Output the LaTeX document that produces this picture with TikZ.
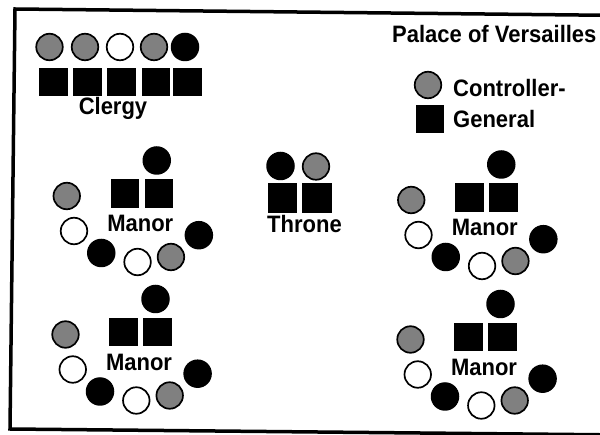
\documentclass[tikz,border=0pt]{standalone}
\usepackage{fontspec}
\setmainfont{Liberation Sans}
\newcommand\tallt[1]{\scalebox{1}[1.08]{#1}}
\begin{document}
\begin{tikzpicture}[x=1pt,y=-1pt,
  blk/.style={circle,fill=black,minimum size=28.5pt,inner sep=0pt},
  wht/.style={circle,draw=black,line width=1.7pt,fill=white,minimum size=26.5pt,inner sep=0pt},
  gry/.style={circle,draw=black,line width=1.7pt,fill=black!50,minimum size=26.5pt,inner sep=0pt},
  sq/.style={rectangle,fill=black,minimum size=28.5pt,inner sep=0pt},
  lbl/.style={font=\fontsize{22}{24}\selectfont\bfseries,inner sep=0pt,anchor=base},
  frame/.style={line width=3.5pt,line join=miter}]
\useasboundingbox (0,0) rectangle (600,435);
\begin{scope}
\clip (0,0) rectangle (600,435);
\draw[frame] (625,15.5) -- (15,9) -- (10,429) -- (625,435);
\end{scope}
% title and legend
\node[lbl,anchor=base west] (title) at (392,43) {\tallt{Palace of Versailles}};
\node[gry] (legc) at (428,85) {};
\node[sq] (legs) at (430,119) {};
\node[lbl,anchor=base west] (legt1) at (453,97) {\tallt{Controller-}};
\node[lbl,anchor=base west] (legt2) at (453,128) {\tallt{General}};
% clergy
\node[gry] (cc1) at (49.5,47) {};
\node[gry] (cc2) at (85,47) {};
\node[wht] (cc3) at (120,47) {};
\node[gry] (cc4) at (154,47) {};
\node[blk] (cc5) at (185,47) {};
\node[sq] (cs1) at (53.5,82) {};
\node[sq] (cs2) at (87.5,82) {};
\node[sq] (cs3) at (121.5,82) {};
\node[sq] (cs4) at (156,82) {};
\node[sq] (cs5) at (187.5,82) {};
\node[lbl] (clergy) at (113,115) {\tallt{Clergy}};
% throne
\node[blk] (tc1) at (280.5,166) {};
\node[gry] (tc2) at (316,166.5) {};
\node[sq,minimum size=29.5pt] (ts1) at (282.5,198) {};
\node[sq,minimum size=29.5pt] (ts2) at (317,198) {};
\node[lbl] (throne) at (304.5,233) {\tallt{Throne}};
% manors
\foreach \p/\mx/\my in {a/141.75/193.5, b/486.25/197.5, c/140.5/332, d/485.5/337}{
  \begin{scope}[shift={(\mx,\my)}]
    \node[blk] (\p top) at (15,-33) {};
    \node[sq] (\p s1) at (-17,0) {};
    \node[sq] (\p s2) at (17,0) {};
    \node[lbl] (\p txt) at (-1.5,38.5) {\tallt{Manor}};
    \node[gry] (\p g1) at (-75,2.5) {};
    \node[wht] (\p w1) at (-67.75,37.5) {};
    \node[blk] (\p b1) at (-40.5,59.5) {};
    \node[wht] (\p w2) at (-4.2,68.5) {};
    \node[gry] (\p g2) at (29.2,63.5) {};
    \node[blk] (\p b2) at (57.1,41.7) {};
  \end{scope}
}
\end{tikzpicture}
\end{document}
